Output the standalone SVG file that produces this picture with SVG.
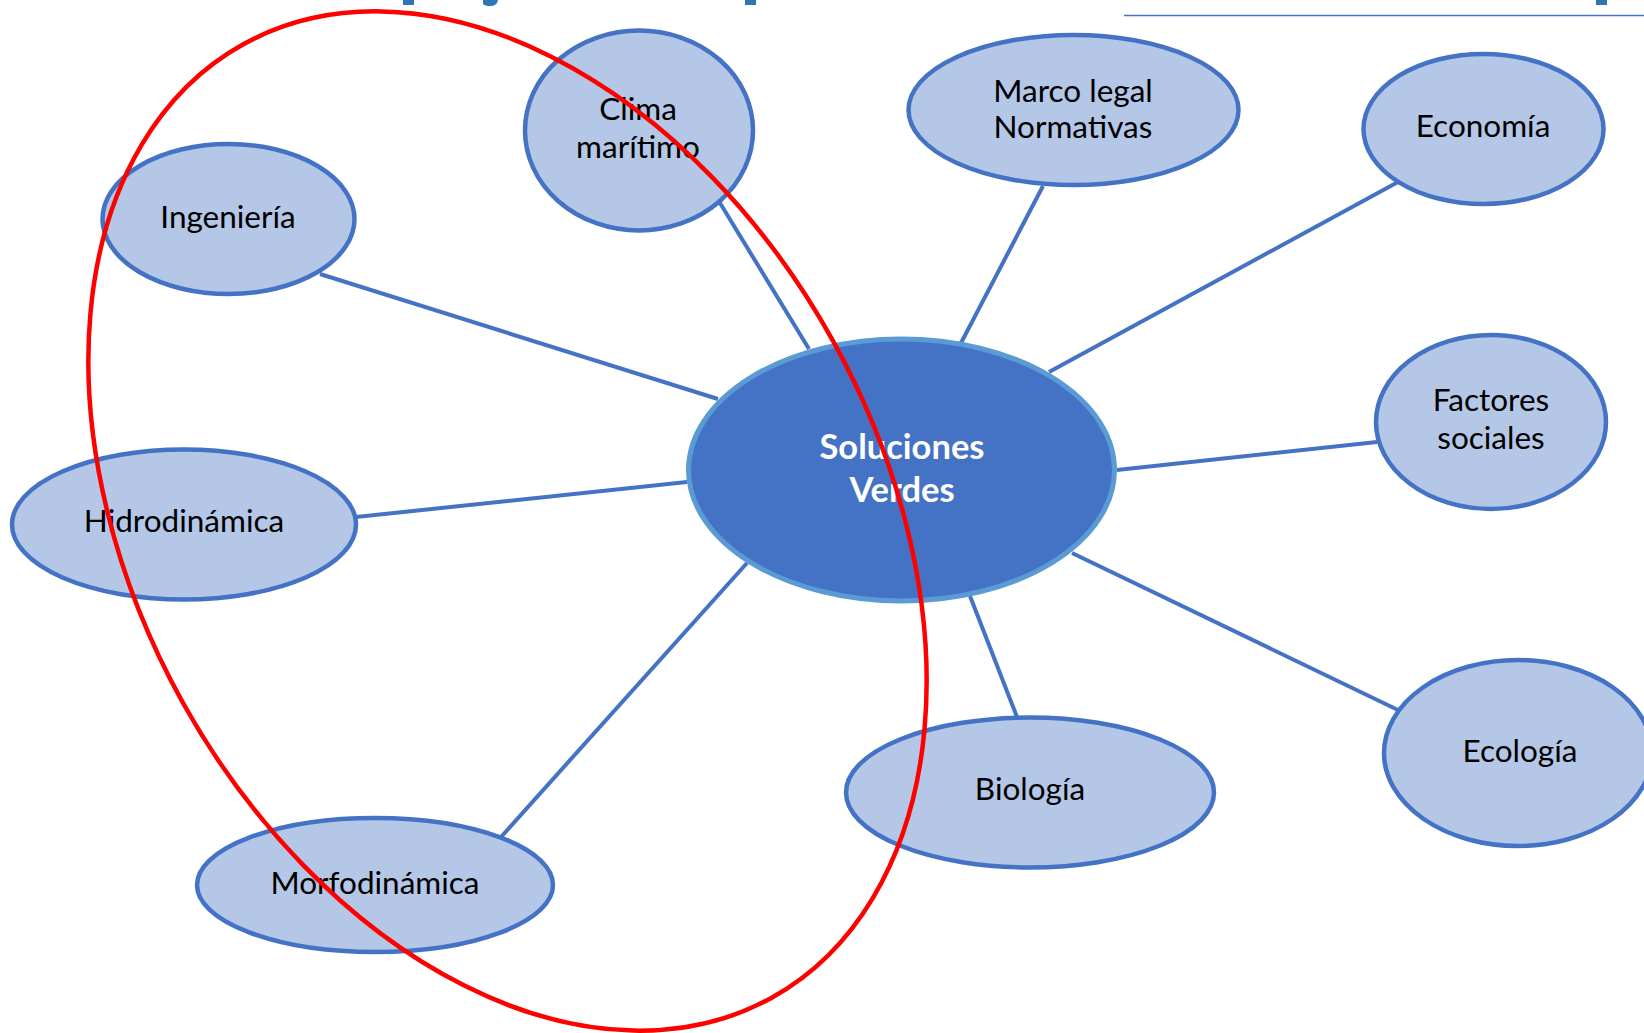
<svg xmlns="http://www.w3.org/2000/svg" width="1644" height="1033" viewBox="0 0 1644 1033">
<style>
.n{fill:#B4C7E7;stroke:#4472C4;stroke-width:4.5}
.c{fill:#4472C4;stroke:#5B9BD5;stroke-width:5}
.t{font-family:Lato,"Liberation Sans",sans-serif;font-size:31.5px;fill:#000;text-anchor:middle}
.w{font-family:Lato,"Liberation Sans",sans-serif;font-size:34.5px;font-weight:bold;fill:#fff;text-anchor:middle}
#connectors line{stroke:#4472C4;stroke-width:4}
</style>
<rect width="1644" height="1033" fill="#fff"/>
<g id="title-fragments" fill="#2E75B6">
<rect x="403" y="0" width="11" height="5"/>
<path d="M483 0 H498 Q497 6 490 6 Q485 6 483 4 Z"/>
<rect x="745" y="0" width="11" height="5"/>
<rect x="1596" y="0" width="11" height="5"/>
</g>
<line x1="1124" y1="15.5" x2="1644" y2="15.5" stroke="#4472C4" stroke-width="1.5"/>
<g id="connectors">
<line x1="720" y1="203" x2="809" y2="349"/>
<line x1="320" y1="274" x2="718" y2="399"/>
<line x1="356" y1="517" x2="687" y2="482"/>
<line x1="501" y1="837" x2="747" y2="563"/>
<line x1="1017" y1="717" x2="970" y2="596"/>
<line x1="1398" y1="710" x2="1072" y2="553"/>
<line x1="1377" y1="442" x2="1117" y2="470"/>
<line x1="1398" y1="182" x2="1049" y2="372"/>
<line x1="1043" y1="186" x2="961" y2="343"/>
</g>
<g id="clima"><ellipse class="n" cx="639" cy="130.5" rx="114" ry="100"/><text class="t" x="638" y="120">Clima</text><text class="t" x="638" y="158">marítimo</text></g>
<g id="marco"><ellipse class="n" cx="1073.5" cy="110" rx="165" ry="75"/><text class="t" x="1073" y="102">Marco legal</text><text class="t" x="1073" y="138">Normativas</text></g>
<g id="economia"><ellipse class="n" cx="1483.5" cy="129" rx="120" ry="75"/><text class="t" x="1483" y="137">Economía</text></g>
<g id="ingenieria"><ellipse class="n" cx="228.5" cy="219" rx="126" ry="75"/><text class="t" x="228" y="228">Ingeniería</text></g>
<g id="factores"><ellipse class="n" cx="1491" cy="422" rx="115" ry="87"/><text class="t" x="1491" y="411">Factores</text><text class="t" x="1491" y="449">sociales</text></g>
<g id="hidro"><ellipse class="n" cx="184" cy="524.5" rx="172" ry="75"/><text class="t" x="184" y="532">Hidrodinámica</text></g>
<g id="morfo"><ellipse class="n" cx="375" cy="885" rx="178" ry="67"/><text class="t" x="375" y="894">Morfodinámica</text></g>
<g id="biologia"><ellipse class="n" cx="1030" cy="792.5" rx="184" ry="75"/><text class="t" x="1030" y="800">Biología</text></g>
<g id="ecologia"><ellipse class="n" cx="1518" cy="753" rx="134" ry="93"/><text class="t" x="1520" y="762">Ecología</text></g>
<g id="soluciones"><ellipse class="c" cx="901.5" cy="470" rx="213" ry="131"/><text class="w" x="902" y="459">Soluciones</text><text class="w" x="902" y="502">Verdes</text></g>
<g id="highlight"><ellipse cx="507.5" cy="521" rx="545" ry="372" transform="rotate(61 507.5 521)" fill="none" stroke="#FF0000" stroke-width="4.5"/></g>
</svg>
